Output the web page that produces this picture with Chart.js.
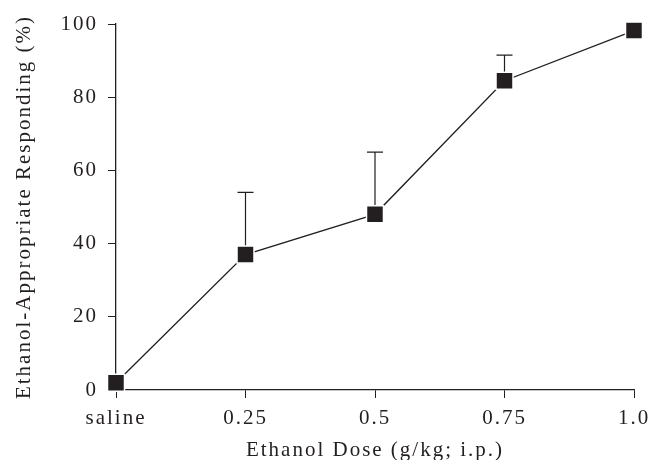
<!DOCTYPE html>
<html>
<head>
<meta charset="utf-8">
<script src="https://cdn.jsdelivr.net/npm/chart.js@4"></script>
<style>
  html, body { margin: 0; padding: 0; background: #fff; }
  #wrap { width: 652px; height: 460px; }
</style>
</head>
<body>
<div id="wrap"><canvas id="c" width="652" height="460"></canvas></div>
<script>
const doseLabels = ['saline', '0.25', '0.5', '0.75', '1.0'];
const responding = [2, 37, 48, 84.5, 98.2];
const semUpper = [0, 17, 17, 7, 0];
const yTicks = [0, 20, 40, 60, 80, 100];

const INK = '#231f20';
const FONT = "'Liberation Serif', 'Times New Roman', serif";

const spacingPlugin = {
  id: 'spacing',
  beforeDraw(chart) { chart.ctx.letterSpacing = '2px'; },
  afterDraw(chart) { chart.ctx.letterSpacing = '0px'; }
};

const errorBarPlugin = {
  id: 'errorBars',
  beforeDatasetsDraw(chart) {
    const ctx = chart.ctx;
    const xs = chart.scales.x, ys = chart.scales.y;
    ctx.save();
    ctx.strokeStyle = INK;
    ctx.lineWidth = 1.2;
    responding.forEach((v, i) => {
      const e = semUpper[i];
      if (!e) return;
      const x = xs.getPixelForValue(i);
      const y0 = ys.getPixelForValue(v);
      const y1 = ys.getPixelForValue(v + e);
      ctx.beginPath();
      ctx.moveTo(x, y0);
      ctx.lineTo(x, y1);
      ctx.moveTo(x - 8, y1);
      ctx.lineTo(x + 8, y1);
      ctx.stroke();
    });
    ctx.restore();
  }
};

new Chart(document.getElementById('c'), {
  type: 'line',
  data: {
    labels: doseLabels,
    datasets: [{
      data: responding,
      borderColor: INK,
      borderWidth: 1.3,
      pointStyle: 'rect',
      pointRadius: 12,
      pointHoverRadius: 12,
      pointBackgroundColor: INK,
      pointBorderColor: '#ffffff',
      pointBorderWidth: 1.5,
      tension: 0,
      clip: false
    }]
  },
  options: {
    responsive: false,
    animation: false,
    events: [],
    layout: { padding: { left: 0, right: 18, top: 24, bottom: 0 } },
    plugins: { legend: { display: false }, tooltip: { enabled: false } },
    scales: {
      x: {
        type: 'category',
        offset: false,
        afterFit(s) { s.height = 70; s.paddingLeft = 0; s.paddingRight = 0; },
        grid: { display: true, drawOnChartArea: false, drawTicks: true, tickLength: 8, color: INK, lineWidth: 1 },
        border: { display: true, color: INK, width: 1.3 },
        ticks: { color: INK, font: { family: FONT, size: 21 }, padding: 8, maxRotation: 0, autoSkip: false },
        title: { display: true, text: 'Ethanol Dose (g/kg; i.p.)', color: INK, font: { family: FONT, size: 21 }, padding: { top: 0, bottom: -3 } }
      },
      y: {
        min: 0, max: 100,
        afterFit(s) { s.width = 116; s.paddingTop = 0; s.paddingBottom = 0; },
        afterBuildTicks(s) { s.ticks = yTicks.map(v => ({ value: v })); },
        grid: { display: true, drawOnChartArea: false, drawTicks: true, tickLength: 8, color: INK, lineWidth: 1 },
        border: { display: true, color: INK, width: 1.3 },
        ticks: { color: INK, font: { family: FONT, size: 21 }, padding: 10 },
        title: { display: true, text: 'Ethanol-Appropriate Responding (%)', color: INK, font: { family: FONT, size: 21 }, padding: { top: 12, bottom: 0 } }
      }
    }
  },
  plugins: [spacingPlugin, errorBarPlugin]
});
</script>
</body>
</html>
